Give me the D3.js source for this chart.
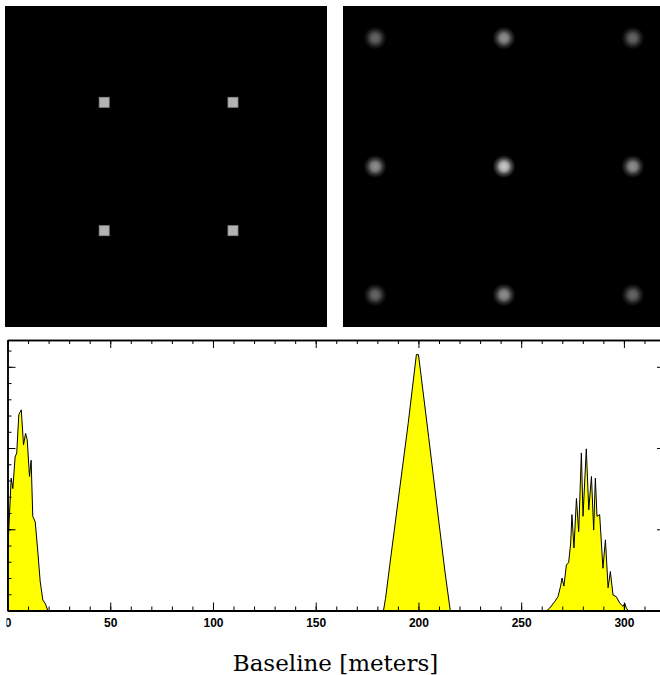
<!DOCTYPE html>
<html lang="en">
<head>
    <meta charset="UTF-8">
    <title>Aperture, uv plane and baseline histogram</title>
    <script src="https://d3js.org/d3.v7.min.js"></script>
    <style>
        body { margin: 0; background: #fff; }
        .tick-label {
            font: bold 12px "Liberation Sans", Arial, sans-serif;
        }
        .axis-title {
            font: 23px "DejaVu Serif", serif;
        }
    </style>
</head>
<body>
    <svg width="660" height="675"></svg>
    <script>
        // telescope positions of the array, metres (left panel)
        const telescopeX = [-96, 104, -96, 104];
        const telescopeY = [100, 100, -100, -100];

        // uv coverage (right panel): baseline vectors and how many pairs give each
        const uvU = [-200, 0, 200, -200, 0, 200, -200, 0, 200];
        const uvV = [200, 200, 200, 0, 0, 0, -200, -200, -200];
        const uvWeight = [1, 2, 1, 2, 4, 2, 1, 2, 1];

        // baseline histogram (bottom panel)
        const baseline = [
            0, 1.8, 2.6, 3.7, 4.5, 5.5, 6.7, 7.8, 8.8, 9.6, 10.7, 11.5, 12.3, 13.5, 14.8, 15.9, 17.2, 18.5, 19.6,
            183, 184, 186, 190, 195, 199, 200, 201, 205, 210, 213, 215, 215.5,
            262.5, 263.9, 266.3, 267.9, 269.2, 269.9, 270.8, 272.0, 273.1, 274.1, 274.7, 275.7, 276.9, 278.0,
            279.3, 280.1, 281.7, 282.9, 284.2, 285.3, 286.1, 286.9, 288.2, 289.8, 291.0, 292.3, 293.4, 294.7,
            296.3, 298.0, 299.6, 300.4, 301.2, 302.0, 320
        ];
        const counts = [
            6.6, 16.3, 15.0, 18.9, 19.4, 24.1, 24.7, 20.4, 21.8, 21.0, 16.5, 18.5, 11.6, 10.9, 7.1, 3.6, 1.3, 0.8, 0,
            0, 1.5, 5.5, 13.3, 23.0, 31.5, 31.5, 29.5, 21.3, 10.8, 4.6, 0.9, 0,
            0, 0.3, 1.1, 1.7, 3.0, 4.0, 3.0, 5.6, 5.9, 8.3, 11.8, 7.7, 13.8, 9.7,
            19.4, 11.6, 19.9, 12.4, 16.5, 9.9, 16.3, 11.6, 11.8, 5.2, 8.7, 2.8, 4.8, 1.9,
            1.7, 0.9, 0.5, 0.9, 0.3, 0, 0
        ];
        const xMajorTicks = [0, 50, 100, 150, 200, 250, 300];

        const svg = d3.select("svg");
        const defs = svg.append("defs");

        // ---- top left: aperture ----
        const left = {x0: 5, x1: 327, y0: 6, y1: 327};
        svg.append("rect")
           .attr("x", left.x0).attr("y", left.y0)
           .attr("width", left.x1 - left.x0).attr("height", left.y1 - left.y0)
           .attr("fill", "#000");

        const ax = d3.scaleLinear().domain([-250, 250]).range([left.x0, left.x1]);
        const ay = d3.scaleLinear().domain([-250, 250]).range([left.y1, left.y0]);
        const sq = 10;

        svg.append("g").selectAll("rect")
           .data(telescopeX.map((d, i) => ({x: d, y: telescopeY[i]})))
           .join("rect")
           .attr("x", d => ax(d.x) - sq / 2)
           .attr("y", d => ay(d.y) - sq / 2)
           .attr("width", sq).attr("height", sq)
           .attr("fill", "#b3b3b3")
           .attr("stroke", "#8a8a8a")
           .attr("stroke-width", 0.8);

        // ---- top right: uv plane ----
        const right = {x0: 343, x1: 665, y0: 6, y1: 327};
        svg.append("rect")
           .attr("x", right.x0).attr("y", right.y0)
           .attr("width", right.x1 - right.x0).attr("height", right.y1 - right.y0)
           .attr("fill", "#000");

        const ux = d3.scaleLinear().domain([-250, 250]).range([right.x0, right.x1]);
        const vy = d3.scaleLinear().domain([-250, 250]).range([right.y1, right.y0]);
        const grey = d3.scaleSqrt().domain([0, 4]).range([0, 205]);

        const uvData = uvU.map((d, i) => ({u: d, v: uvV[i], w: uvWeight[i], id: "blob" + i}));
        uvData.forEach(d => {
            const g = Math.round(grey(d.w));
            const c = `rgb(${g},${g},${g})`;
            const grad = defs.append("radialGradient").attr("id", d.id);
            grad.append("stop").attr("offset", "0%").attr("stop-color", c).attr("stop-opacity", 1);
            grad.append("stop").attr("offset", "35%").attr("stop-color", c).attr("stop-opacity", 0.85);
            grad.append("stop").attr("offset", "70%").attr("stop-color", c).attr("stop-opacity", 0.3);
            grad.append("stop").attr("offset", "100%").attr("stop-color", c).attr("stop-opacity", 0);
        });

        svg.append("g").selectAll("circle")
           .data(uvData)
           .join("circle")
           .attr("cx", d => ux(d.u))
           .attr("cy", d => vy(d.v))
           .attr("r", 11.5)
           .attr("fill", d => `url(#${d.id})`);

        // ---- bottom: baseline histogram ----
        const plot = {x0: 7.5, x1: 665, y0: 340, y1: 610.5};
        const x = d3.scaleLinear().domain([0, 320]).range([plot.x0, plot.x1]);
        const y = d3.scaleLinear().domain([0, 33.3]).range([plot.y1, plot.y0]);

        const hist = baseline.map((d, i) => ({b: d, n: counts[i]}));

        svg.append("path")
           .datum(hist)
           .attr("fill", "#ffff00")
           .attr("stroke", "#000")
           .attr("stroke-width", 1)
           .attr("d", d3.area().x(d => x(d.b)).y0(y(0)).y1(d => y(d.n)));

        function styleAxis(g, w) {
            g.select(".domain").attr("stroke-width", w);
            g.selectAll(".tick line").attr("stroke-width", 1);
        }

        const xMinor = d3.range(0, 321, 10);
        const yMajor = [0, 10, 20, 30];
        const yMinor = d3.range(0, 34, 2);

        // the "0" label is cut by the left edge of the figure
        defs.append("clipPath").attr("id", "labelClip")
            .append("rect").attr("x", 6.5).attr("y", -20).attr("width", 700).attr("height", 50);

        // bottom
        svg.append("g").attr("transform", `translate(0,${plot.y1})`)
           .call(d3.axisBottom(x).tickValues(xMinor).tickSize(-4).tickSizeOuter(0).tickFormat(""))
           .call(g => styleAxis(g, 2));
        svg.append("g").attr("transform", `translate(0,${plot.y1})`)
           .attr("clip-path", "url(#labelClip)")
           .call(d3.axisBottom(x).tickValues(xMajorTicks).tickSize(-8).tickSizeOuter(0).tickPadding(8))
           .call(g => styleAxis(g, 2))
           .call(g => g.selectAll("text")
                        .attr("class", "tick-label")
                        .attr("fill", "#000")
                        .attr("dy", "0.71em"));

        // top
        svg.append("g").attr("transform", `translate(0,${plot.y0})`)
           .call(d3.axisTop(x).tickValues(xMinor).tickSize(-4).tickSizeOuter(0).tickFormat(""))
           .call(g => styleAxis(g, 1.5));
        svg.append("g").attr("transform", `translate(0,${plot.y0})`)
           .call(d3.axisTop(x).tickValues(xMajorTicks).tickSize(-8).tickSizeOuter(0).tickFormat(""))
           .call(g => styleAxis(g, 1.5));

        // left and right
        [[d3.axisLeft, plot.x0], [d3.axisRight, plot.x1]].forEach(([axisFn, pos]) => {
            svg.append("g").attr("transform", `translate(${pos},0)`)
               .call(axisFn(y).tickValues(yMinor).tickSize(-4).tickSizeOuter(0).tickFormat(""))
               .call(g => styleAxis(g, 1.5));
            svg.append("g").attr("transform", `translate(${pos},0)`)
               .call(axisFn(y).tickValues(yMajor).tickSize(-8).tickSizeOuter(0).tickFormat(""))
               .call(g => styleAxis(g, 1.5));
        });

        // axis title
        svg.append("text")
           .attr("class", "axis-title")
           .attr("x", 335.5)
           .attr("y", 671)
           .attr("text-anchor", "middle")
           .text("Baseline [meters]");
    </script>
</body>
</html>
